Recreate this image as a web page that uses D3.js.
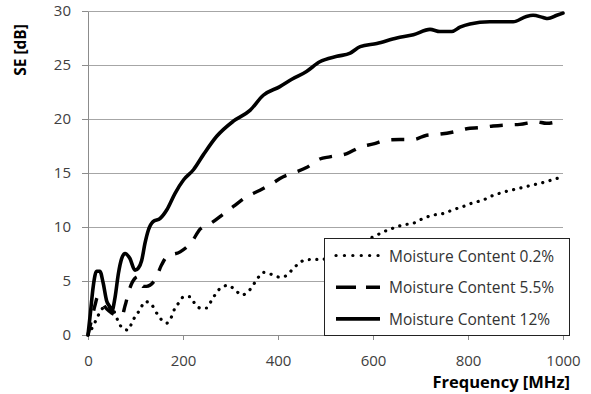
<!DOCTYPE html>
<html>
<head>
<meta charset="utf-8">
<script src="https://cdn.jsdelivr.net/npm/d3@7"></script>
<style>
  html, body { margin: 0; padding: 0; background: #fff; }
  svg { display: block; font-family: "Open Sans", sans-serif; }
</style>
</head>
<body>
<div id="chart"></div>
<script>
"use strict";

// data
const xTicks = [0, 200, 400, 600, 800, 1000];
const yTicks = [0, 5, 10, 15, 20, 25, 30];
const seriesNames = ["Moisture Content 0.2%", "Moisture Content 5.5%", "Moisture Content 12%"];

const freq02 = [0, 8, 15, 22, 32, 46, 57, 64, 74, 85, 92, 99, 109, 120, 134, 145, 155, 166, 176, 183, 194, 201, 215, 225, 236, 250, 260, 278, 295, 309, 324, 341, 355, 369, 387, 404, 418, 429, 443, 457, 474, 492, 530, 570, 608, 622, 643, 664, 685, 706, 727, 748, 769, 790, 811, 832, 846, 881, 909, 937, 965, 987, 1000];
const se02 = [0, 0.6, 1.2, 1.85, 2.5, 2.6, 2.0, 1.2, 0.6, 0.45, 1.1, 1.7, 2.3, 3.1, 2.8, 2.0, 1.4, 1.1, 1.7, 2.5, 3.1, 3.55, 3.55, 2.9, 2.5, 2.5, 3.2, 4.3, 4.6, 4.2, 3.7, 4.2, 5.1, 5.8, 5.6, 5.35, 5.5, 6.0, 6.6, 6.95, 7.0, 7.0, 7.7, 8.5, 9.25, 9.55, 9.9, 10.2, 10.35, 10.8, 11.1, 11.25, 11.6, 11.9, 12.25, 12.5, 12.8, 13.3, 13.6, 13.9, 14.2, 14.5, 14.6];

const freq55 = [0, 8, 15, 20, 28, 36, 45, 55, 65, 72, 78, 87, 99, 105, 116, 123, 141, 155, 166, 194, 218, 236, 257, 285, 306, 334, 362, 383, 411, 432, 460, 488, 509, 545, 573, 601, 629, 657, 685, 713, 741, 769, 797, 825, 853, 881, 909, 944, 965, 1000];
const se55 = [0, 1.5, 2.8, 3.5, 3.2, 2.6, 2.2, 1.9, 1.8, 1.85, 2.7, 4.2, 5.25, 5.4, 4.5, 4.5, 5.1, 6.5, 7.25, 7.7, 8.6, 9.8, 10.3, 11.2, 11.9, 12.8, 13.4, 13.9, 14.65, 15.0, 15.5, 16.3, 16.5, 16.8, 17.4, 17.7, 18.05, 18.1, 18.1, 18.5, 18.6, 18.8, 19.1, 19.2, 19.35, 19.45, 19.5, 19.75, 19.6, 19.9];

const freq12 = [0, 5, 11, 18, 25, 32, 39, 46, 50, 57, 64, 71, 78, 88, 99, 106, 113, 120, 127, 137, 152, 166, 183, 201, 222, 243, 271, 306, 341, 369, 404, 430, 460, 488, 524, 552, 573, 608, 650, 685, 720, 741, 766, 783, 804, 846, 895, 923, 937, 958, 968, 987, 1000];
const se12 = [0, 2.0, 4.5, 5.9, 5.9, 4.8, 3.2, 2.6, 2.2, 3.5, 5.7, 7.1, 7.55, 7.1, 6.0, 6.2, 6.9, 8.5, 9.7, 10.5, 10.8, 11.6, 13.1, 14.35, 15.3, 16.7, 18.4, 19.8, 20.8, 22.2, 23.0, 23.7, 24.4, 25.3, 25.8, 26.1, 26.7, 27.0, 27.5, 27.8, 28.3, 28.1, 28.1, 28.5, 28.8, 29.0, 29.0, 29.5, 29.6, 29.4, 29.3, 29.6, 29.8];

const W = 591, H = 394;
const margin = { left: 88, right: 28, top: 11, bottom: 59 };

const svg = d3.select("#chart").append("svg")
    .attr("width", W)
    .attr("height", H);

const x = d3.scaleLinear().domain([0, 1000]).range([margin.left, W - margin.right]);
const y = d3.scaleLinear().domain([0, 30]).range([H - margin.bottom, margin.top]);

// horizontal gridlines
svg.append("g")
  .selectAll("line")
  .data(yTicks.slice(1))
  .enter().append("line")
    .attr("x1", x(0)).attr("x2", x(1000))
    .attr("y1", d => y(d)).attr("y2", d => y(d))
    .style("stroke", "#a6a6a6").style("stroke-width", 1)
    .attr("shape-rendering", "crispEdges");

// axes
const xAxis = svg.append("g")
    .attr("transform", `translate(0,${y(0)})`)
    .call(d3.axisBottom(x).tickValues(xTicks).tickFormat(d3.format("d"))
      .tickSize(5).tickPadding(15).tickSizeOuter(0));
const yAxis = svg.append("g")
    .attr("transform", `translate(${x(0)},0)`)
    .call(d3.axisLeft(y).tickValues(yTicks).tickSize(6).tickPadding(11).tickSizeOuter(0));

[xAxis, yAxis].forEach(g => {
  g.selectAll("path, line").style("stroke", "#8c8c8c").attr("shape-rendering", "crispEdges");
  g.selectAll("text")
    .style("font-family", "'Open Sans', sans-serif")
    .style("font-size", "15px")
    .style("fill", "#404040");
});

// lines
const line = d3.line()
    .x(d => x(d[0]))
    .y(d => y(d[1]))
    .curve(d3.curveMonotoneX);

const series = [
  { name: seriesNames[0], pts: d3.zip(freq02, se02), width: 3.2, dash: "0.1,7.4", cap: "round" },
  { name: seriesNames[1], pts: d3.zip(freq55, se55), width: 3.4, dash: "13,12", cap: "butt" },
  { name: seriesNames[2], pts: d3.zip(freq12, se12), width: 3.6, dash: null, cap: "round" }
];

svg.append("g")
  .selectAll("path")
  .data(series)
  .enter().append("path")
    .attr("d", d => line(d.pts))
    .style("fill", "none")
    .style("stroke", "#000")
    .style("stroke-width", d => d.width)
    .style("stroke-dasharray", d => d.dash)
    .style("stroke-linecap", d => d.cap)
    .style("stroke-linejoin", "round");

// legend
const legend = svg.append("g").attr("transform", "translate(324,238)");
legend.append("rect")
    .attr("x", 0.5).attr("y", 0.5)
    .attr("width", 245).attr("height", 97)
    .style("fill", "#fff")
    .style("stroke", "#222")
    .style("stroke-width", 1);

const legendDash = ["0.1,8.3", "20,10", null];
const rows = legend.selectAll(".row")
  .data(series)
  .enter().append("g")
    .attr("transform", (d, i) => `translate(0,${17.5 + i * 31.7})`);

rows.append("line")
    .attr("x1", 12).attr("x2", 56)
    .attr("y1", 0).attr("y2", 0)
    .style("stroke", "#000")
    .style("stroke-width", d => d.width)
    .style("stroke-dasharray", (d, i) => legendDash[i])
    .style("stroke-linecap", (d, i) => i === 0 ? "round" : "butt");

rows.append("text")
    .attr("x", 65)
    .attr("y", 0)
    .attr("dominant-baseline", "central")
    .style("font-size", "15.5px")
    .style("fill", "#333")
    .text(d => d.name);

// axis titles
svg.append("text")
    .attr("transform", "translate(26,50) rotate(-90)")
    .attr("text-anchor", "middle")
    .style("font-size", "15.5px")
    .style("font-weight", "bold")
    .style("fill", "#000")
    .text("SE [dB]");

svg.append("text")
    .attr("x", 570)
    .attr("y", 388)
    .attr("text-anchor", "end")
    .style("font-size", "16.5px")
    .style("font-weight", "bold")
    .style("fill", "#000")
    .text("Frequency [MHz]");
</script>
</body>
</html>
